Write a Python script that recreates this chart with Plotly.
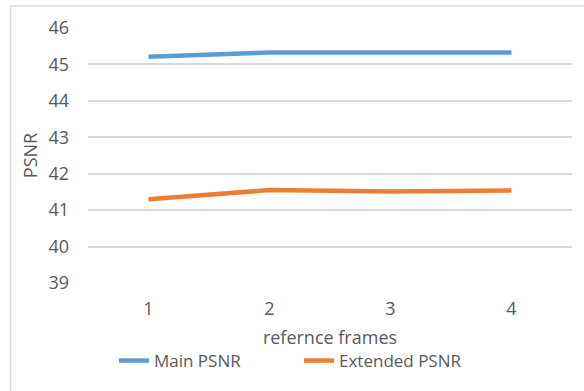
import plotly.graph_objects as go

frames = [1, 2, 3, 4]
frame_labels = ["1", "2", "3", "4"]
main_psnr = [45.21, 45.33, 45.33, 45.33]
extended_psnr = [41.30, 41.55, 41.51, 41.54]
y_ticks = [39, 40, 41, 42, 43, 44, 45, 46]

FONT = "Open Sans"
GRAY = "#595959"

fig = go.Figure()
fig.add_trace(go.Scatter(x=frames, y=main_psnr, mode="lines", name="Main PSNR",
                         line=dict(color="#5b9bd5", width=4.5)))
fig.add_trace(go.Scatter(x=frames, y=extended_psnr, mode="lines", name="Extended PSNR",
                         line=dict(color="#ed7d31", width=4.5)))

L, R, T, B = 88, 12, 28, 108
W, H = 584, 391
pw, ph = W - L - R, H - T - B


def px_to_paper_x(px):
    return (px - L) / pw


def px_to_paper_y(py):
    return (H - B - py) / ph


# chart-area frame (left and top edges visible)
fig.add_shape(type="rect", xref="paper", yref="paper",
              x0=px_to_paper_x(10.5), x1=px_to_paper_x(W + 5),
              y0=px_to_paper_y(H + 10), y1=px_to_paper_y(6),
              line=dict(color="#d9d9d9", width=1.5), fillcolor="rgba(0,0,0,0)", layer="below")

fig.update_layout(
    width=W, height=H,
    margin=dict(l=L, r=R, t=T, b=B),
    paper_bgcolor="white", plot_bgcolor="white",
    font=dict(family=FONT, color=GRAY, size=18),
    showlegend=True,
    legend=dict(orientation="h", x=px_to_paper_x(114), xanchor="left",
                y=px_to_paper_y(361), yanchor="middle",
                font=dict(size=17, color=GRAY), entrywidth=140, entrywidthmode="pixels",
                tracegroupgap=0, bgcolor="rgba(0,0,0,0)"),
    xaxis=dict(tickmode="array", tickvals=frames, ticktext=frame_labels,
               range=[0.5, 4.5], showgrid=False, zeroline=False, showline=False,
               ticks="", ticklabelstandoff=13,
               title=dict(text="refernce frames", font=dict(size=18, color=GRAY), standoff=12)),
    yaxis=dict(tickvals=y_ticks, range=[39, 46], showgrid=True, gridcolor="#d9d9d9",
               gridwidth=1.5, zeroline=False, showline=False, ticks="",
               ticklabelstandoff=18,
               title=dict(text="PSNR", font=dict(size=18, color=GRAY), standoff=6)),
)

fig.write_html("out.html")
